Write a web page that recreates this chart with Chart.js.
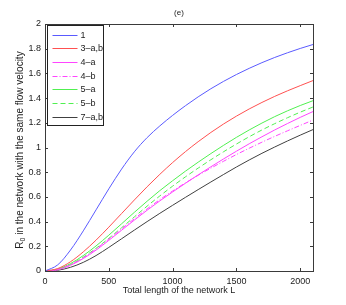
<!DOCTYPE html>
<html>
<head>
<meta charset="utf-8">
<script src="https://cdn.jsdelivr.net/npm/chart.js@4"></script>
<style>
  html, body { margin: 0; padding: 0; background: #fff; }
  #wrap { width: 346px; height: 305px; position: relative; }
</style>
</head>
<body>
<div id="wrap"><canvas id="r0Chart"></canvas></div>
<script>
// total length L
const lengths = [0, 100, 200, 300, 400, 500, 600, 700, 800, 900, 1000,
  1100, 1200, 1300, 1400, 1500, 1600, 1700, 1800, 1900, 2000, 2100];

const seriesNames = ['1', '3\u2013a,b', '4\u2013a', '4\u2013b', '5\u2013a', '5\u2013b', '7\u2013a,b'];

const r0_1  = [0, 0.05, 0.17, 0.325, 0.495, 0.665, 0.825, 0.965, 1.08, 1.175, 1.26,
  1.338, 1.41, 1.476, 1.536, 1.591, 1.641, 1.687, 1.729, 1.767, 1.802, 1.834];
const r0_3  = [0, 0.02, 0.075, 0.155, 0.25, 0.355, 0.465, 0.575, 0.682, 0.783, 0.878,
  0.966, 1.047, 1.122, 1.191, 1.254, 1.312, 1.365, 1.414, 1.459, 1.501, 1.542];
const r0_4a = [0, 0.01, 0.046, 0.101, 0.169, 0.248, 0.33, 0.412, 0.492, 0.568, 0.64,
  0.71, 0.778, 0.844, 0.908, 0.97, 1.03, 1.087, 1.142, 1.194, 1.244, 1.291];
const r0_4b = [0, 0.012, 0.05, 0.107, 0.178, 0.258, 0.341, 0.423, 0.503, 0.578, 0.648,
  0.713, 0.775, 0.833, 0.889, 0.943, 0.994, 1.043, 1.09, 1.135, 1.179, 1.222];
const r0_5a = [0, 0.015, 0.06, 0.125, 0.203, 0.29, 0.382, 0.475, 0.565, 0.651, 0.731,
  0.808, 0.881, 0.951, 1.018, 1.082, 1.142, 1.198, 1.25, 1.297, 1.34, 1.379];
const r0_5b = [0, 0.012, 0.052, 0.112, 0.184, 0.264, 0.35, 0.438, 0.525, 0.608, 0.687,
  0.762, 0.833, 0.901, 0.966, 1.028, 1.087, 1.142, 1.193, 1.241, 1.286, 1.328];
const r0_7  = [0, 0.006, 0.03, 0.07, 0.125, 0.191, 0.261, 0.331, 0.40, 0.467, 0.532,
  0.596, 0.659, 0.721, 0.782, 0.842, 0.899, 0.953, 1.004, 1.053, 1.10, 1.145];

const xTicks = [0, 500, 1000, 1500, 2000];

const toPts = (ys) => ys.map((y, i) => ({ x: lengths[i], y: y }));

function line(label, ys, color, dash) {
  return {
    label: label,
    data: toPts(ys),
    borderColor: color,
    backgroundColor: color,
    borderWidth: 1,
    borderDash: dash || [],
    pointRadius: 0,
    fill: false,
    cubicInterpolationMode: 'monotone'
  };
}

const FONT = '"Liberation Sans", Arial, sans-serif';

// box, inward ticks, title, y label and legend, matlab style
const matlabFrame = {
  id: 'matlabFrame',
  afterDraw(chart) {
    const { ctx, chartArea: a, scales } = chart;
    const xs = scales.x, ys = scales.y;
    ctx.save();
    ctx.strokeStyle = '#3a3a3a';
    ctx.lineWidth = 1;
    ctx.strokeRect(Math.round(a.left) + 0.5, Math.round(a.top) + 0.5,
      Math.round(a.right - a.left), Math.round(a.bottom - a.top));

    const tl = 3;
    ctx.beginPath();
    xs.ticks.forEach(t => {
      const px = Math.round(xs.getPixelForValue(t.value)) + 0.5;
      ctx.moveTo(px, a.bottom); ctx.lineTo(px, a.bottom - tl);
      ctx.moveTo(px, a.top); ctx.lineTo(px, a.top + tl);
    });
    ys.ticks.forEach(t => {
      const py = Math.round(ys.getPixelForValue(t.value)) + 0.5;
      ctx.moveTo(a.left, py); ctx.lineTo(a.left + tl, py);
      ctx.moveTo(a.right, py); ctx.lineTo(a.right - tl, py);
    });
    ctx.stroke();

    // title
    ctx.fillStyle = '#222';
    ctx.font = '8px ' + FONT;
    ctx.textAlign = 'center';
    ctx.textBaseline = 'middle';
    ctx.fillText('(e)', (a.left + a.right) / 2, 13);

    // y axis label with subscript
    ctx.save();
    ctx.translate(20, 150);
    ctx.rotate(-Math.PI / 2);
    ctx.font = '10px ' + FONT;
    const rest = ' in the network with the same flow velocity';
    const wR = ctx.measureText('R').width;
    ctx.font = '7px ' + FONT;
    const w0 = ctx.measureText('0').width;
    ctx.font = '10px ' + FONT;
    const wRest = ctx.measureText(rest).width;
    let x0 = -(wR + w0 + wRest) / 2;
    ctx.textAlign = 'left';
    ctx.fillText('R', x0, 0);
    ctx.font = '7px ' + FONT;
    ctx.fillText('0', x0 + wR, 3.5);
    ctx.font = '10px ' + FONT;
    ctx.fillText(rest, x0 + wR + w0, 0);
    ctx.restore();

    // legend in upper left corner
    const lx = Math.round(a.left) + 2.5, ly = Math.round(a.top) + 1.5;
    const lw = 56, rowH = 13.7;
    const n = chart.data.datasets.length;
    ctx.fillStyle = '#fff';
    ctx.fillRect(lx, ly, lw, n * rowH + 4);
    ctx.strokeStyle = '#222';
    ctx.strokeRect(lx, ly, lw, Math.round(n * rowH + 4));
    ctx.font = '9px ' + FONT;
    ctx.textAlign = 'left';
    ctx.textBaseline = 'middle';
    chart.data.datasets.forEach((ds, i) => {
      const yy = Math.round(ly + 9 + i * rowH) + 0.5;
      ctx.strokeStyle = ds.borderColor;
      ctx.setLineDash(ds.borderDash || []);
      ctx.beginPath();
      ctx.moveTo(lx + 5, yy); ctx.lineTo(lx + 30, yy);
      ctx.stroke();
      ctx.setLineDash([]);
      ctx.fillStyle = '#222';
      ctx.fillText(ds.label, lx + 33, yy);
    });
    ctx.restore();
  }
};

new Chart(document.getElementById('r0Chart'), {
  type: 'line',
  data: {
    datasets: [
      line(seriesNames[0], r0_1, '#5a5aff'),
      line(seriesNames[1], r0_3, '#ff5050'),
      line(seriesNames[2], r0_4a, '#ff45ff'),
      line(seriesNames[3], r0_4b, '#ff45ff', [5, 2, 1, 2]),
      line(seriesNames[4], r0_5a, '#50f050'),
      line(seriesNames[5], r0_5b, '#50f050', [5, 3]),
      line(seriesNames[6], r0_7, '#404040')
    ]
  },
  options: {
    responsive: true,
    maintainAspectRatio: false,
    animation: false,
    layout: { padding: { top: 24, right: 33, bottom: 0, left: 0 } },
    scales: {
      x: {
        type: 'linear',
        min: 0,
        max: 2100,
        afterBuildTicks: (s) => { s.ticks = xTicks.map(v => ({ value: v })); },
        afterFit: (s) => { s.height = 34; },
        grid: { display: false, drawTicks: false },
        border: { display: false },
        ticks: {
          color: '#222', font: { family: FONT, size: 9 }, padding: 5, maxRotation: 0,
          callback: (v) => String(v)
        },
        title: {
          display: true,
          text: 'Total length of the network L',
          color: '#222',
          font: { family: FONT, size: 9 },
          padding: { top: 0, bottom: 9 }
        }
      },
      y: {
        min: 0,
        max: 2,
        afterFit: (s) => { s.width = 45; },
        grid: { display: false, drawTicks: false },
        border: { display: false },
        ticks: {
          stepSize: 0.2,
          color: '#222',
          font: { family: FONT, size: 9 },
          padding: 4,
          callback: (v) => String(+v.toFixed(1))
        }
      }
    },
    plugins: {
      legend: { display: false },
      tooltip: { enabled: false }
    }
  },
  plugins: [matlabFrame]
});
</script>
</body>
</html>
